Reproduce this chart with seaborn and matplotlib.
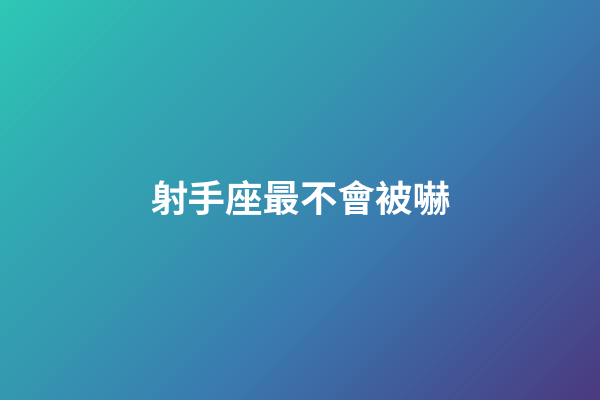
import numpy as np
import matplotlib
matplotlib.use("Agg")
import matplotlib.pyplot as plt
import seaborn as sns

# Gradient stops (top-left -> bottom-right, evenly spaced) and title text
stop_colors = ["#2ec8b6", "#31adb3", "#3598b0", "#3a7cb0", "#415a9a", "#4c3a80"]
title_text = "射手座最不會被嚇"

sns.set_theme(style="white")
plt.rcParams['font.family'] = ['Noto Sans CJK TC', 'DejaVu Sans']

W, H = 600, 400
fig = plt.figure(figsize=(6, 4), dpi=100)
ax = fig.add_axes([0, 0, 1, 1])
ax.set_axis_off()

cmap = sns.blend_palette(stop_colors, as_cmap=True)
xx, yy = np.meshgrid(np.linspace(0, 1, W), np.linspace(0, 1, H))
grad = (xx * W + yy * H) / (W + H)
ax.imshow(grad, cmap=cmap, aspect='auto', extent=[0, W, H, 0], interpolation='bilinear')
ax.set_xlim(0, W)
ax.set_ylim(H, 0)

ax.text(W / 2, 200, title_text, color='white', fontsize=27, fontweight='bold',
        ha='center', va='center')

fig.savefig("out.png", dpi=100)
